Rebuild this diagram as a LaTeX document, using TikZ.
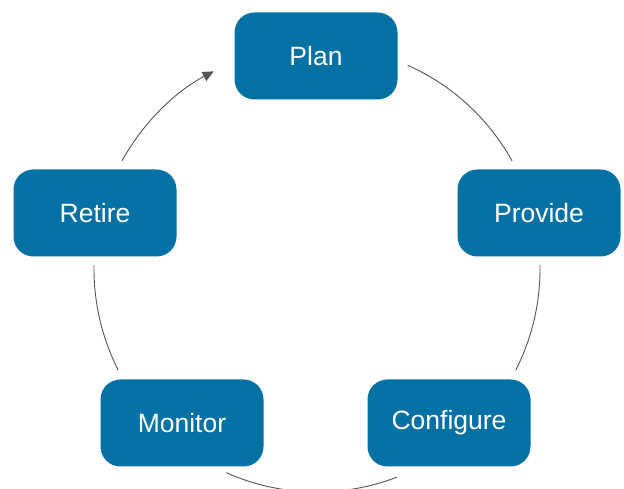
\documentclass[tikz,border=0pt]{standalone}
\usepackage{fontspec}
\setmainfont{Liberation Sans}
\usetikzlibrary{arrows.meta,calc}
\definecolor{stageblue}{RGB}{4,113,164}
\definecolor{loopgray}{RGB}{85,85,85}

\begin{document}
\begin{tikzpicture}[x=1pt,y=1pt]
        \edef\loopr{223pt}
        \tikzstyle{stage}=[fill=stageblue,text=white,rounded corners=20pt,minimum width=163pt,minimum height=87pt,font=\fontsize{26.5}{30}\selectfont]
        \tikzstyle{loop}=[draw=loopgray,line width=0.9pt]

        \useasboundingbox (0,0) rectangle (624,489);
        \coordinate (c) at (317,220);

        \node [stage] (plan) at (316,433) {Plan};
        \node [stage] (provide) at (539,276) {Provide};
        \node [stage] (configure) at (449,66) {Configure};
        \node [stage] (monitor) at (182,66) {Monitor};
        \node [stage] (retire) at (95,276) {Retire};

        %ends of the arcs on the cycle
        \foreach \name/\a in {s1/66, e1/29, s2/1, e2/-27, s3/-69, e3/-114, s4/207, e4/179, s5/151, e5/117.6} {
            \coordinate (\name) at ($(c)+(\a:\loopr)$);
        };

        \draw [loop] (s1) arc [start angle=66, end angle=29, radius=\loopr];
        \draw [loop] (s2) arc [start angle=1, end angle=-27, radius=\loopr];
        \draw [loop] (s3) arc [start angle=-69, end angle=-114, radius=\loopr];
        \draw [loop] (s4) arc [start angle=207, end angle=179, radius=\loopr];
        \draw [loop,-{Triangle[length=11pt,width=10pt]}] (s5) arc [start angle=151, end angle=117.6, radius=\loopr];
\end{tikzpicture}
\end{document}
